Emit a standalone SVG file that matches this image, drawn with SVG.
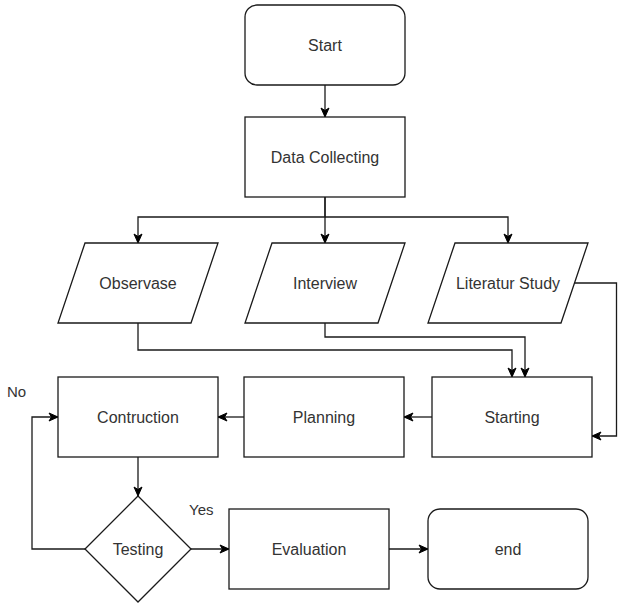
<svg xmlns="http://www.w3.org/2000/svg" width="618" height="604" viewBox="0 0 618 604">
<style>
.s{fill:#fff;stroke:#1a1a1a;stroke-width:1.3}
.t{font-family:"Liberation Sans",Arial,sans-serif;font-size:16px;fill:#333;text-anchor:middle}
.l{font-family:"Liberation Sans",Arial,sans-serif;font-size:15px;fill:#333}
.c{fill:none;stroke:#1a1a1a;stroke-width:1.3}
</style>
<defs>
<marker id="a" markerUnits="userSpaceOnUse" markerWidth="12" markerHeight="12" refX="10" refY="6" orient="auto">
<path d="M1,2 L10,6 L1,10 L3.5,6 Z" fill="#000" stroke="#000" stroke-width="1"/>
</marker>
</defs>
<rect width="618" height="604" fill="#fff"/>
<g id="connectors">
<path class="c" d="M325,85 V117" marker-end="url(#a)"/>
<path class="c" d="M325,197 V217 H138 V243" marker-end="url(#a)"/>
<path class="c" d="M325,197 V243" marker-end="url(#a)"/>
<path class="c" d="M325,217 H508 V243" marker-end="url(#a)"/>
<path class="c" d="M138,323 V350 H512 V377" marker-end="url(#a)"/>
<path class="c" d="M325,323 V337 H525 V377" marker-end="url(#a)"/>
<path class="c" d="M574,283 H616.5 V436 H592" marker-end="url(#a)"/>
<path class="c" d="M432,417 H404" marker-end="url(#a)"/>
<path class="c" d="M244,417 H218" marker-end="url(#a)"/>
<path class="c" d="M138,457 V496" marker-end="url(#a)"/>
<path class="c" d="M85,549 H32 V417 H58" marker-end="url(#a)"/>
<path class="c" d="M191,549 H229" marker-end="url(#a)"/>
<path class="c" d="M389,549 H428" marker-end="url(#a)"/>
</g>
<g id="start"><rect class="s" x="245" y="5" width="160" height="80" rx="12"/><text class="t" x="325" y="51">Start</text></g>
<g id="data-collecting"><rect class="s" x="245" y="117" width="160" height="80"/><text class="t" x="325" y="163">Data Collecting</text></g>
<g id="observase"><polygon class="s" points="85,243 218,243 191,323 58,323"/><text class="t" x="138" y="289">Observase</text></g>
<g id="interview"><polygon class="s" points="272,243 405,243 378,323 245,323"/><text class="t" x="325" y="289">Interview</text></g>
<g id="literatur-study"><polygon class="s" points="455,243 588,243 561,323 428,323"/><text class="t" x="508" y="289">Literatur Study</text></g>
<g id="contruction"><rect class="s" x="58" y="377" width="160" height="80"/><text class="t" x="138" y="423">Contruction</text></g>
<g id="planning"><rect class="s" x="244" y="377" width="160" height="80"/><text class="t" x="324" y="423">Planning</text></g>
<g id="starting"><rect class="s" x="432" y="377" width="160" height="80"/><text class="t" x="512" y="423">Starting</text></g>
<g id="testing"><polygon class="s" points="138,496 191,549 138,602 85,549"/><text class="t" x="138" y="555">Testing</text></g>
<g id="evaluation"><rect class="s" x="229" y="509" width="160" height="80"/><text class="t" x="309" y="555">Evaluation</text></g>
<g id="end"><rect class="s" x="428" y="509" width="160" height="80" rx="12"/><text class="t" x="508" y="555">end</text></g>
<g id="labels"><text class="l" x="7" y="397">No</text><text class="l" x="189" y="515">Yes</text></g>
</svg>
